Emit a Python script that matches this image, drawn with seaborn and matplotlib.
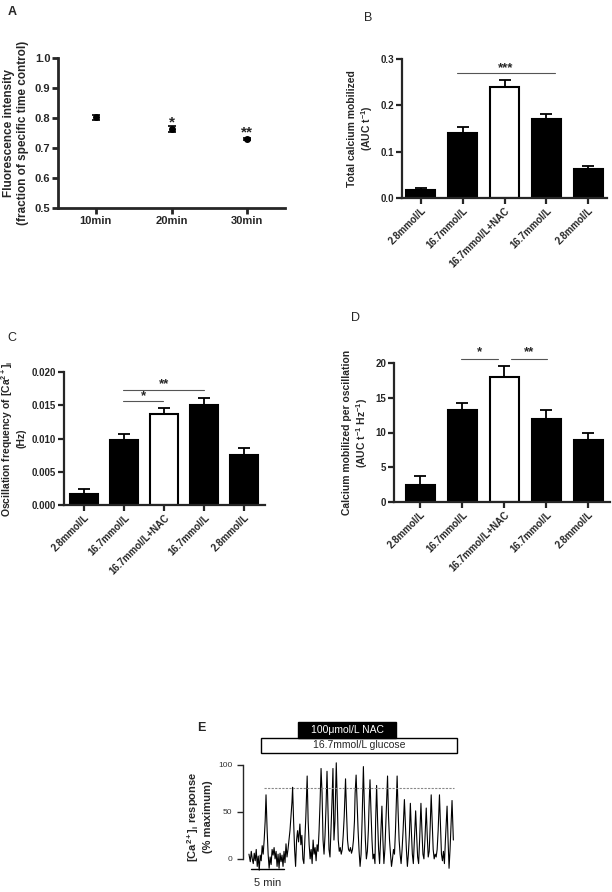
import numpy as np
import pandas as pd
import matplotlib.pyplot as plt
from matplotlib.patches import Rectangle
import seaborn as sns

# panel A: fluorescence vs time
time_labels = ["10min", "20min", "30min"]
fluor_mean = [0.802, 0.763, 0.730]
fluor_sem = [0.008, 0.009, 0.004]
fluor_stars = ["", "*", "**"]

# panels B-D: bars per condition
cond_labels = ["2.8mmol/L", "16.7mmol/L", "16.7mmol/L+NAC", "16.7mmol/L", "2.8mmol/L"]
total_ca = [0.018, 0.140, 0.240, 0.170, 0.062]
total_ca_sem = [0.004, 0.013, 0.015, 0.012, 0.007]
osc_freq = [0.0017, 0.0098, 0.0137, 0.0150, 0.0075]
osc_freq_sem = [0.0007, 0.0009, 0.0009, 0.0011, 0.0011]
ca_per_osc = [2.5, 13.2, 18.0, 11.9, 8.9]
ca_per_osc_sem = [1.2, 1.0, 1.6, 1.3, 1.0]

# panel E: calcium trace (min, % maximum)
trace_t = [0.0, 0.2, 0.35, 0.5, 0.65, 0.8, 0.95, 1.1, 1.25, 1.4, 1.55, 1.7, 1.85, 2.0, 2.15,
           2.3, 2.45, 2.58, 2.75, 2.9, 3.05, 3.2, 3.35, 3.5, 3.65, 3.8, 3.95, 4.1, 4.25, 4.4,
           4.55, 4.7, 4.85, 5.0, 5.15, 5.3, 5.45, 5.6, 5.75, 5.9, 6.05, 6.2, 6.35, 6.5, 6.6,
           6.75, 6.9, 7.05, 7.2, 7.35, 7.5, 7.7, 7.85, 8.0, 8.15, 8.3, 8.45, 8.6, 8.8, 8.95,
           9.1, 9.25, 9.4, 9.55, 9.7, 9.85, 10.0, 10.15, 10.3, 10.45, 10.6, 10.75, 10.9, 11.05,
           11.2, 11.35, 11.5, 11.65, 11.8, 11.95, 12.1, 12.25, 12.4, 12.55, 12.7, 12.85, 13.0,
           13.2, 13.35, 13.5, 13.65, 13.8, 13.95, 14.1, 14.25, 14.4, 14.6, 14.75, 14.9, 15.05,
           15.2, 15.35, 15.5, 15.65, 15.8, 15.95, 16.05, 16.2, 16.35, 16.5, 16.65, 16.8, 16.95,
           17.1, 17.3, 17.45, 17.6, 17.75, 17.9, 18.05, 18.15, 18.3, 18.45, 18.6, 18.75, 18.9,
           19.05, 19.15, 19.3, 19.45, 19.6, 19.75, 19.9, 20.1, 20.25, 20.4, 20.55, 20.7, 20.95,
           21.1, 21.25, 21.4, 21.55, 21.7, 21.85, 22.0, 22.15, 22.4, 22.55, 22.7, 22.85, 23.0,
           23.15, 23.3, 23.5, 23.65, 23.8, 23.95, 24.1, 24.25, 24.4, 24.55, 24.7, 24.85, 25.0,
           25.2, 25.35, 25.5, 25.65, 25.8, 26.0, 26.15, 26.3, 26.45, 26.6, 26.8, 26.95, 27.1,
           27.25, 27.4, 27.55, 27.7, 27.85, 28.0, 28.15, 28.3, 28.45, 28.6, 28.8, 28.95, 29.1,
           29.25, 29.4, 29.55, 29.7, 29.95, 30.1, 30.25, 30.4, 30.55, 30.7, 30.85, 30.9]
trace_v = [5, -3, 8, 0, -5, 6, -2, 10, -8, 3, -12, 4, -2, 14, 5,
           20, 40, 68, 30, 5, -10, 2, -6, 10, 4, 12, 0, 8, -8, 5,
           -10, 6, -3, 4, -8, 8, -4, 16, 2, 10, 20, 30, 45, 60, 76,
           40, 10, -8, 20, 30, 18, 37, 15, 25, 0, -5, 20, 45, 88, 40,
           15, 0, 10, -5, 20, 5, 12, -2, 15, 8, 30, 60, 96, 70,
           20, 5, 25, 55, 93, 50, 10, 2, 30, 60, 96, 20, 40,
           102, 60, 20, 8, 12, 5, 10, 25, 45, 85, 50, 20, 10,
           8, 12, 6, 10, 20, 40, 70, 89, 60, 30, 8, -8, 5,
           40, 98, 55, 20, 0, 8, 30, 55, 84, 50, 20, 0, 5,
           -5, 40, 78, 40, 10, -5, 20, 56, 20, -5, 10, 40, 88,
           45, 20, 5, -8, 0, 10, 5, 30, 88, 50, 20, 5, -5,
           10, 30, 63, 35, 10, -8, 5, 25, 59, 30, 5, -5, 20,
           51, 25, 2, -5, 20, 59, 30, 5, 0, 20, 54, 25, 2,
           8, 35, 68, 40, 10, 0, 5, 2, 10, 30, 68, 35, 5,
           -2, 8, -5, 20, 56, 20, -10, 10, 35, 62, 30, 20]

sns.set_style("ticks")
plt.rcParams["font.family"] = ["Liberation Sans", "DejaVu Sans"]
plt.rcParams["font.weight"] = "bold"
plt.rcParams["axes.labelweight"] = "bold"
plt.rcParams["mathtext.fontset"] = "custom"
plt.rcParams["mathtext.rm"] = "Liberation Sans:bold"
plt.rcParams["mathtext.it"] = "Liberation Sans:bold"
plt.rcParams["mathtext.bf"] = "Liberation Sans:bold"
plt.rcParams["mathtext.default"] = "rm"

W, H = 612, 892
fig = plt.figure(figsize=(6.12, 8.92), dpi=100)


def add_ax(left, top, right, bottom):
    return fig.add_axes([left / W, 1 - bottom / H, (right - left) / W, (bottom - top) / H])


def style_ax(ax, lw=1.6, size=7):
    sns.despine(ax=ax)
    for s in ["left", "bottom"]:
        ax.spines[s].set_linewidth(lw)
    ax.tick_params(direction="out", length=4, width=lw, labelsize=size, pad=1.5)
    ax.set_facecolor("none")


def bar_panel(ax, vals, sems, xlim, ylim, yticks, fmt):
    df = pd.DataFrame({"cond": [f"c{i}" for i in range(5)], "val": vals})
    pal = {"c0": "black", "c1": "black", "c2": "white", "c3": "black", "c4": "black"}
    sns.barplot(data=df, x="cond", y="val", hue="cond", palette=pal, edgecolor="black",
                linewidth=1.5, width=0.69, legend=False, ax=ax, zorder=2)
    ax.errorbar(range(5), vals, yerr=[np.zeros(5), sems], fmt="none", ecolor="black",
                elinewidth=1.3, capsize=4, capthick=1.3, zorder=1)
    ax.set_xlim(*xlim)
    ax.set_ylim(*ylim)
    ax.set_yticks(yticks)
    ax.set_yticklabels([fmt.format(v) for v in yticks])
    ax.set_xticks(range(5))
    ax.set_xticklabels(cond_labels, rotation=45, ha="right", rotation_mode="anchor", fontsize=4.8)
    ax.set_xlabel("")
    style_ax(ax)


def sig_line(ax, x0, x1, y, text, ty):
    ax.plot([x0, x1], [y, y], color="#555555", lw=0.8, clip_on=False)
    ax.text((x0 + x1) / 2, ty, text, ha="center", va="center", fontsize=9.5, clip_on=False)


# ---- A ----
axA = add_ax(58, 58, 285, 208)
axA.errorbar(range(3), fluor_mean, yerr=fluor_sem, fmt="o", color="black", ms=4,
             capsize=3, elinewidth=1.2, capthick=1.2)
for i, s in enumerate(fluor_stars):
    if s:
        axA.text(i, fluor_mean[i] + 0.021, s, ha="center", va="center", fontsize=11)
axA.set_xlim(-0.5, 2.5)
axA.set_ylim(0.5, 1.0)
axA.set_yticks([0.5, 0.6, 0.7, 0.8, 0.9, 1.0])
axA.set_xticks(range(3))
axA.set_xticklabels(time_labels)
axA.set_ylabel("Fluorescence intensity\n(fraction of specific time control)", fontsize=8.5, labelpad=4)
style_ax(axA, lw=2, size=8)
fig.text(12 / W, 1 - 12 / H, "A", fontsize=9, ha="center", va="center")

# ---- B ----
axB = add_ax(402, 59, 607, 198)
bar_panel(axB, total_ca, total_ca_sem, (-0.45, 4.45), (0, 0.3), [0.0, 0.1, 0.2, 0.3], "{:.1f}")
axB.set_ylabel("Total calcium mobilized\n(AUC t$^{-1}$)", fontsize=7.5)
sig_line(axB, 0.86, 3.2, 0.27, "***", 0.28)
fig.text(368 / W, 1 - 18 / H, "B", fontsize=9, weight="normal", ha="center", va="center")

# ---- C ----
axC = add_ax(64, 372, 265, 505)
bar_panel(axC, osc_freq, osc_freq_sem, (-0.5, 4.52), (0, 0.02),
          [0.0, 0.005, 0.010, 0.015, 0.020], "{:.3f}")
axC.set_ylabel("Oscillation frequency of [Ca$^{2+}$]$_{i}$\n(Hz)", fontsize=7.5)
sig_line(axC, 0.98, 1.97, 0.0156, "*", 0.0164)
sig_line(axC, 0.98, 3.0, 0.0173, "**", 0.0182)
fig.text(12 / W, 1 - 338 / H, "C", fontsize=9, weight="normal", ha="center", va="center")

# ---- D ----
axD = add_ax(394, 363, 610, 502)
bar_panel(axD, ca_per_osc, ca_per_osc_sem, (-0.62, 4.52), (0, 20), [0, 5, 10, 15, 20], "{:.0f}")
axD.set_ylabel("Calcium mobilized per oscillation\n(AUC t$^{-1}$ Hz$^{-1}$)", fontsize=7.5)
sig_line(axD, 0.98, 1.86, 20.6, "*", 21.5)
sig_line(axD, 2.17, 3.02, 20.6, "**", 21.5)
fig.text(356 / W, 1 - 318 / H, "D", fontsize=9, weight="normal", ha="center", va="center")

# ---- E ----
axE = add_ax(243, 760, 456, 873)
df_trace = pd.DataFrame({"t": trace_t, "v": trace_v})
sns.lineplot(data=df_trace, x="t", y="v", color="black", lw=0.8, sort=False, estimator=None, ax=axE)
axE.plot([2.3, 31], [75, 75], color="#888888", lw=0.8, ls=(0, (2, 1.2)))
axE.set_xlim(-0.9, 31.3)
axE.set_ylim(-15, 105)
sns.despine(ax=axE, bottom=True)
axE.spines["left"].set_bounds(0, 100)
axE.spines["left"].set_linewidth(1)
axE.set_xticks([])
axE.set_yticks([0, 50, 100])
axE.tick_params(axis="y", direction="out", length=4, width=1, labelsize=6, labelcolor="#333333")
for lab in axE.get_yticklabels():
    lab.set_fontweight("normal")
axE.set_xlabel("")
axE.set_ylabel("[Ca$^{2+}$]$_{i}$ response\n(% maximum)", fontsize=8)
axE.set_facecolor("none")
# 5 min scale bar
axE.plot([0.3, 5.3], [-10.5, -10.5], color="black", lw=1, clip_on=False)
axE.text(2.8, -20, "5 min", ha="center", va="top", fontsize=8, weight="normal")
# treatment boxes
axE.add_patch(Rectangle((1.8, 112.8), 29.7, 15.9, facecolor="white", edgecolor="black",
                        lw=1, clip_on=False))
axE.text(16.65, 120.7, "16.7mmol/L glucose", ha="center", va="center", fontsize=7.5,
         weight="normal")
axE.add_patch(Rectangle((7.4, 128.7), 14.9, 17, facecolor="black", edgecolor="black",
                        lw=1, clip_on=False))
axE.text(14.85, 137.2, "100\u03bcmol/L NAC", ha="center", va="center", fontsize=7.5,
         weight="normal", color="white")
fig.text(201 / W, 1 - 728 / H, "E", fontsize=9, ha="center", va="center")

fig.savefig("out.png", dpi=100)
